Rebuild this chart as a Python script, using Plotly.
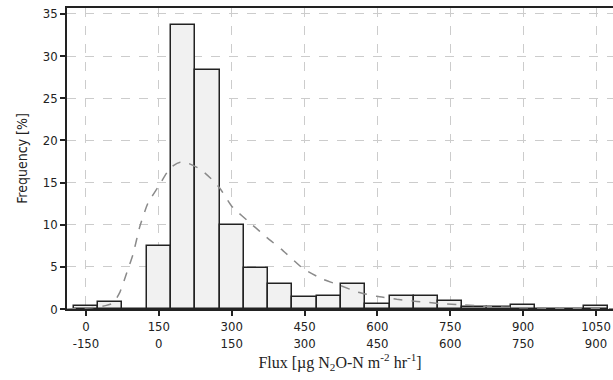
import plotly.graph_objects as go

# Histogram bins (centers, µg N2O-N m-2 hr-1) and frequencies (%)
bin_centers = [0, 50, 100, 150, 200, 250, 300, 350, 400, 450, 500, 550, 600,
               650, 700, 750, 800, 850, 900, 950, 1000, 1050]
frequency = [0.35, 0.8, 0.0, 7.5, 33.7, 28.3, 10.0, 4.9, 3.0, 1.4, 1.6, 3.0, 0.6,
             1.5, 1.5, 1.0, 0.2, 0.25, 0.5, 0.05, 0.05, 0.3]
bin_width = 50

# Fitted distribution curve (dashed)
curve_x = [-40, -20, 0, 20, 40, 56, 70, 84, 97, 111, 128, 150, 167, 180, 194,
           210, 235, 255, 276, 300, 344, 372, 406, 447, 485, 523, 560, 599, 640,
           681, 729, 776, 825, 900, 1000, 1085]
curve_y = [0.0, 0.05, 0.12, 0.2, 0.4, 0.7, 2.0, 4.3, 6.5, 9.8, 12.6, 14.6, 16.2,
           17.0, 17.4, 17.3, 16.6, 15.6, 14.3, 12.2, 9.9, 8.5, 6.9, 4.8, 3.6, 2.8,
           2.0, 1.5, 1.15, 0.9, 0.65, 0.5, 0.3, 0.15, 0.05, 0.02]

tick_vals = [0, 150, 300, 450, 600, 750, 900, 1050]
tick_row1 = ["0", "150", "300", "450", "600", "750", "900", "1050"]
tick_row2 = ["-150", "0", "150", "300", "450", "600", "750", "900"]
y_ticks = [0, 5, 10, 15, 20, 25, 30, 35]

tick_font = dict(family="DejaVu Sans Condensed", size=13, color="#222")

fig = go.Figure()
fig.add_trace(go.Bar(
    x=bin_centers, y=frequency, width=bin_width,
    marker=dict(color="#f1f1f1", line=dict(color="#222", width=1.5)),
    showlegend=False,
))
fig.add_trace(go.Scatter(
    x=curve_x, y=curve_y, mode="lines",
    line=dict(color="#8a8a8a", width=1.5, dash="dash", shape="spline", smoothing=0.5),
    showlegend=False,
))

fig.update_layout(
    width=613, height=380,
    margin=dict(l=67, r=0, t=8, b=71),
    paper_bgcolor="white", plot_bgcolor="white",
    bargap=0,
    xaxis=dict(
        range=[-39, 1085],
        tickmode="array", tickvals=tick_vals,
        ticktext=[f"{a}<br>{b}" for a, b in zip(tick_row1, tick_row2)],
        ticks="outside", ticklen=5, tickcolor="#222", tickwidth=1.5,
        showline=True, linecolor="#222", linewidth=1.5, mirror=True,
        showgrid=True, gridcolor="#cccccc", griddash="dash", gridwidth=1,
        zeroline=False,
        tickfont=tick_font,
        title=dict(text="Flux [µg N<sub>2</sub>O-N m<sup>-2</sup> hr<sup>-1</sup>]",
                   font=dict(family="Liberation Serif", size=16, color="#222"),
                   standoff=6),
    ),
    yaxis=dict(
        range=[0, 35.7],
        tickmode="array", tickvals=y_ticks,
        ticks="outside", ticklen=5, tickcolor="#222", tickwidth=1.5,
        showline=True, linecolor="#222", linewidth=1.5,
        showgrid=True, gridcolor="#cccccc", griddash="dash", gridwidth=1,
        zeroline=False,
        tickfont=tick_font,
        title=dict(text="Frequency [%]",
                   font=dict(family="DejaVu Sans Condensed", size=14, color="#222"),
                   standoff=12),
    ),
)

fig.write_html("out.html")
